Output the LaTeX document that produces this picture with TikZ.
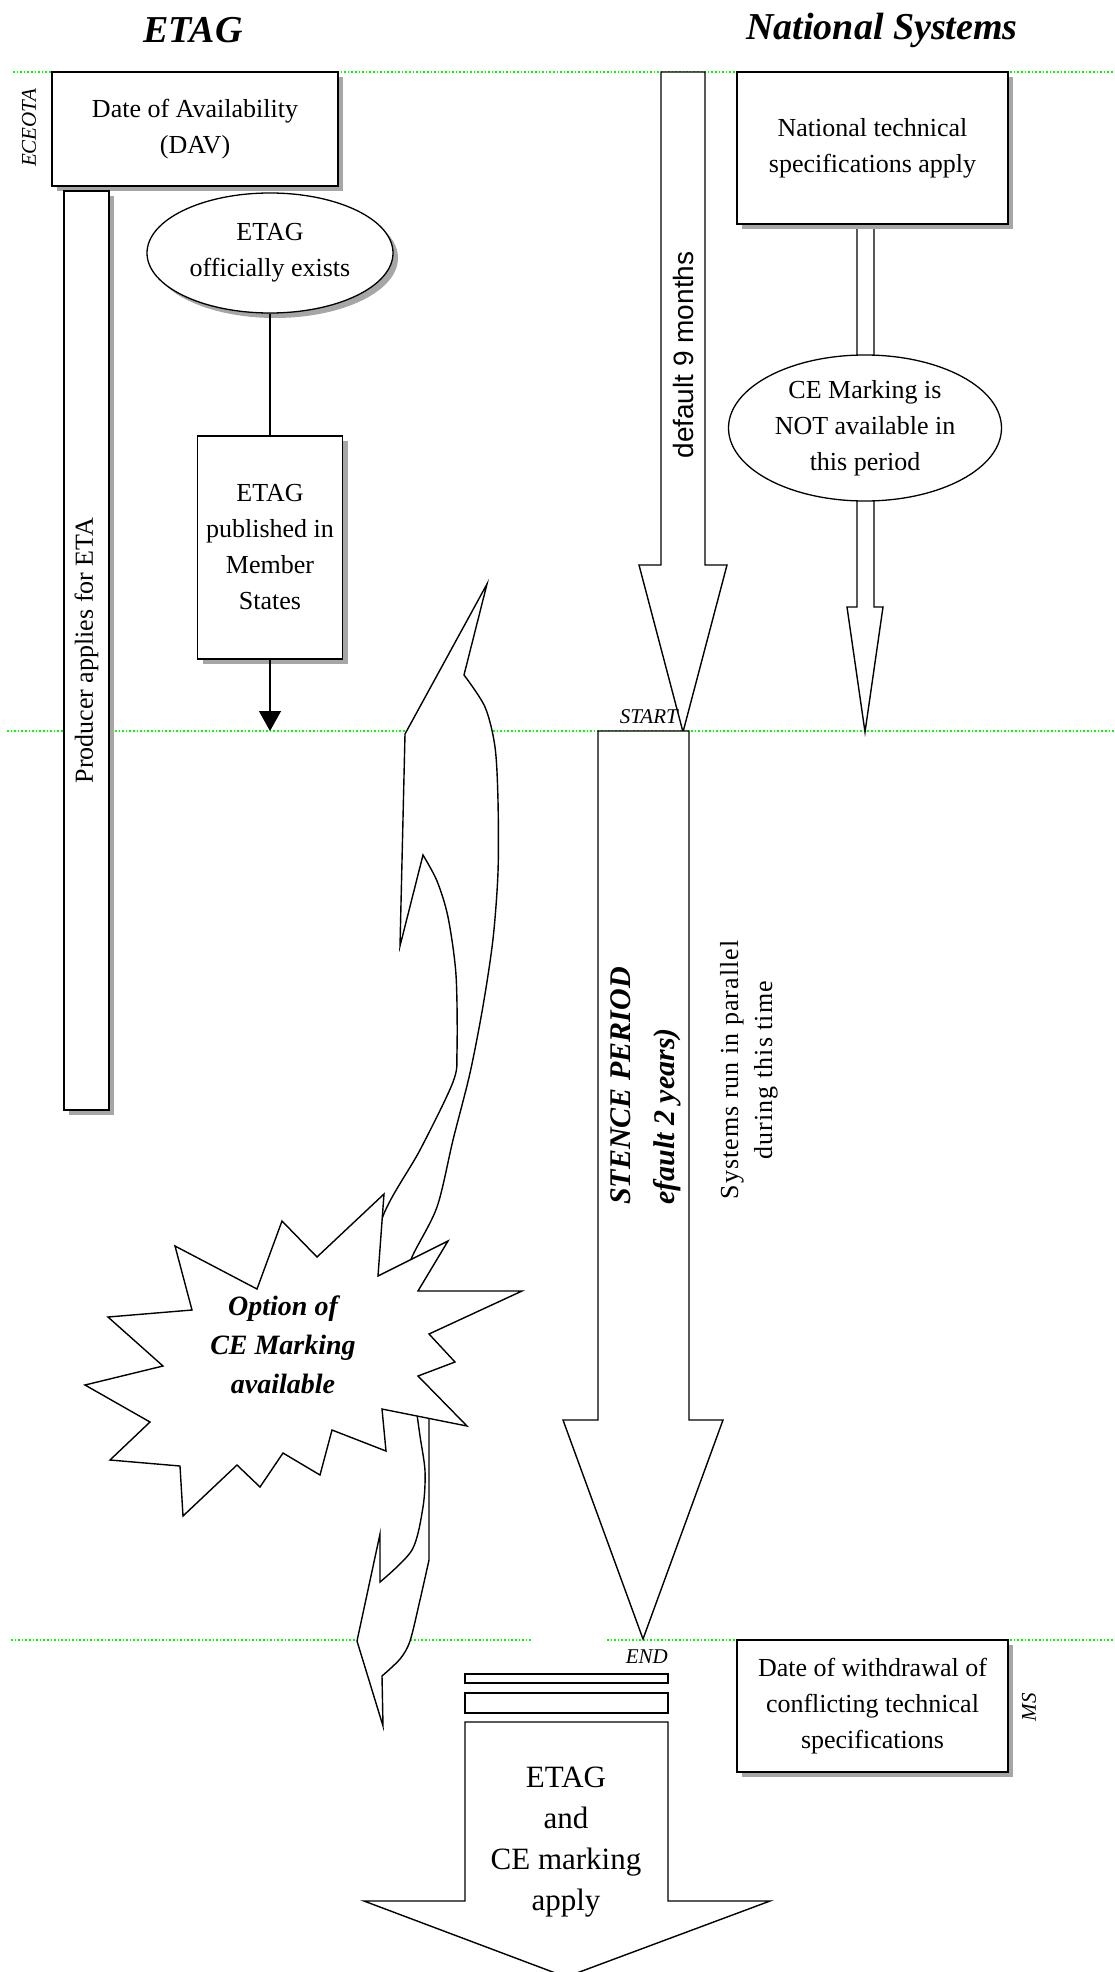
\documentclass[tikz,border=0pt]{standalone}
\usepackage{fontspec}
\setmainfont{Liberation Serif}
\newfontfamily\arialfont{Liberation Sans}
\newfontfamily\spacedserif[LetterSpace=4]{Liberation Serif}
\usepackage{tikz}
\usetikzlibrary{shapes.geometric,shadows,arrows.meta}

\definecolor{guidegreen}{RGB}{0,255,0}
\newcommand{\boxtextfont}{\fontsize{26}{36}\selectfont}

\tikzset{
  guideline/.style={guidegreen, dotted, line width=1.6pt},
  shadowed/.style={drop shadow={shadow xshift=5pt, shadow yshift=-5pt, fill=gray!70, opacity=1}},
  datebox/.style={draw, fill=white, line width=1.8pt, align=center, font=\boxtextfont, inner sep=0pt, shadowed},
  ovalbox/.style={ellipse, draw, fill=white, line width=1.3pt, align=center, font=\boxtextfont, inner sep=0pt},
  blockarrow/.style={draw, fill=white, line width=1.4pt, line join=miter},
  link/.style={line width=1.3pt},
  titlelabel/.style={font=\fontsize{38}{44}\selectfont\bfseries\itshape},
  taglabel/.style={font=\fontsize{21}{24}\selectfont\itshape, inner sep=0pt},
  periodlabel/.style={font=\fontsize{30}{34}\selectfont\bfseries\itshape, inner sep=0pt}
}

\begin{document}
\begin{tikzpicture}[x=1pt,y=-1pt]
    \useasboundingbox (0,0) rectangle (1115,1972);

    % draw horizontal lines
    \foreach \y/\xa in {72/13,731/7}
      \draw[guideline] (\xa,\y) -- (1115,\y);
    \draw[guideline] (11,1640) -- (532,1640);
    \draw[guideline] (607,1640) -- (1115,1640);

    % draw titles
    \node[titlelabel] (etagtitle) at (193,30) {ETAG};
    \node[titlelabel] (nattitle) at (882,30) {National Systems};

    % draw ETAG side
    \node[datebox, minimum width=286pt, minimum height=114pt] (dav) at (195,129) {Date of Availability\\(DAV)};
    \node[taglabel, rotate=90] (eceota) at (29,128) {ECEOTA};
    \node[datebox, minimum width=45pt, minimum height=919pt] (producer) at (86.5,650.5) {};
    \node[rotate=90, font=\boxtextfont] (producertext) at (producer.center) {Producer applies for ETA};
    \node[ovalbox, shadowed, minimum width=246pt, minimum height=120pt] (exists) at (270,253) {ETAG\\officially exists};
    \node[datebox, minimum width=145pt, minimum height=223pt] (published) at (270,547.5) {ETAG\\published in\\Member\\States};
    \coordinate (pubend) at (270,731);
    \draw[link] (exists) -- (published);
    \draw[link, -{Triangle[width=22pt,length=20pt]}] (published) -- (pubend);

    % draw national side
    \draw[blockarrow] (857,224) -- (874,224) -- (874,607) -- (883,607) -- (865,732) -- (847,607) -- (857,607) -- cycle;
    \node[datebox, minimum width=271pt, minimum height=152pt] (natspec) at (872.5,148) {National technical\\specifications apply};
    \node[ovalbox, minimum width=273pt, minimum height=146pt] (notavail) at (865,428) {CE Marking is\\NOT available in\\this period};

    % draw default period arrow
    \draw[blockarrow] (661,72) -- (705,72) -- (705,565) -- (727,565) -- (683,732) -- (639,565) -- (661,565) -- cycle;
    \node[rotate=90, font=\arialfont\fontsize{28}{32}\selectfont] (months) at (683,355) {default 9 months};
    \node[taglabel, anchor=east] (start) at (678,717) {START};

    % draw existence period arrow
    \draw[blockarrow] (598,731) -- (689,731) -- (689,1420) -- (723,1420) -- (643,1639) -- (563,1420) -- (598,1420) -- cycle;
    \node[periodlabel, rotate=90, anchor=west] (period) at (621,1205) {STENCE PERIOD};
    \node[periodlabel, rotate=90, anchor=west] (perioddefault) at (667,1205) {efault 2 years)};
    \node[rotate=90, font=\spacedserif\fontsize{26}{34}\selectfont, align=center] (parallel) at (749,1070) {Systems run in parallel\\during this time};
    \node[taglabel, anchor=east] (end) at (668,1657) {END};

    % draw curved arrow
    \draw[blockarrow] (405,734) -- (487,584) -- (464,675)
      -- plot[smooth] coordinates {(464,675) (485,707) (495,747) (498,801) (498,872) (493,939) (483,1006) (470,1073) (453,1140) (437,1207) (412,1257) (396,1300)}
      -- (362,1300)
      -- plot[smooth] coordinates {(362,1300) (383,1216) (420,1150) (453,1082) (457,1051) (456,975) (448,917) (437,881) (423,855)}
      -- (400,946) -- cycle;
    \draw[blockarrow] (415,1400)
      -- plot[smooth] coordinates {(415,1400) (420,1436) (425,1471) (423,1507) (412,1550) (380,1582)}
      -- (380,1534) -- (357,1641) -- (383,1726) -- (382,1676)
      -- plot[smooth] coordinates {(382,1676) (400,1659) (410,1641) (420,1600) (429,1560)}
      -- (429,1400) -- cycle;

    % draw starburst
    \draw[blockarrow] (85,1385) -- (163,1366) -- (108,1317) -- (192,1310) -- (175,1246) -- (257,1289)
      -- (282,1221) -- (317,1257) -- (384,1194) -- (378,1276) -- (448,1241) -- (418,1291)
      -- (522,1291) -- (429,1334) -- (455,1362) -- (418,1376) -- (467,1426) -- (382,1409)
      -- (386,1451) -- (332,1430) -- (320,1475) -- (283,1453) -- (260,1487) -- (237,1465)
      -- (183,1516) -- (180,1466) -- (110,1460) -- (150,1422) -- cycle;
    \node[font=\fontsize{28}{39}\selectfont\bfseries\itshape, align=center] (option) at (283,1345) {Option of\\CE Marking\\available};

    % draw end of period
    \draw[blockarrow] (465,1674) rectangle (668,1683);
    \draw[blockarrow] (465,1693) rectangle (668,1713);
    \draw[blockarrow] (465,1722) -- (668,1722) -- (668,1901) -- (770,1901) -- (566,1977) -- (364,1901) -- (465,1901) -- cycle;
    \node[font=\fontsize{31}{41}\selectfont, align=center] (apply) at (566,1842) {ETAG\\and\\CE marking\\apply};
    \node[datebox, minimum width=271pt, minimum height=132pt] (withdrawal) at (872.5,1706) {Date of withdrawal of\\conflicting technical\\specifications};
    \node[taglabel, rotate=90] (ms) at (1029,1707) {MS};
\end{tikzpicture}
\end{document}
